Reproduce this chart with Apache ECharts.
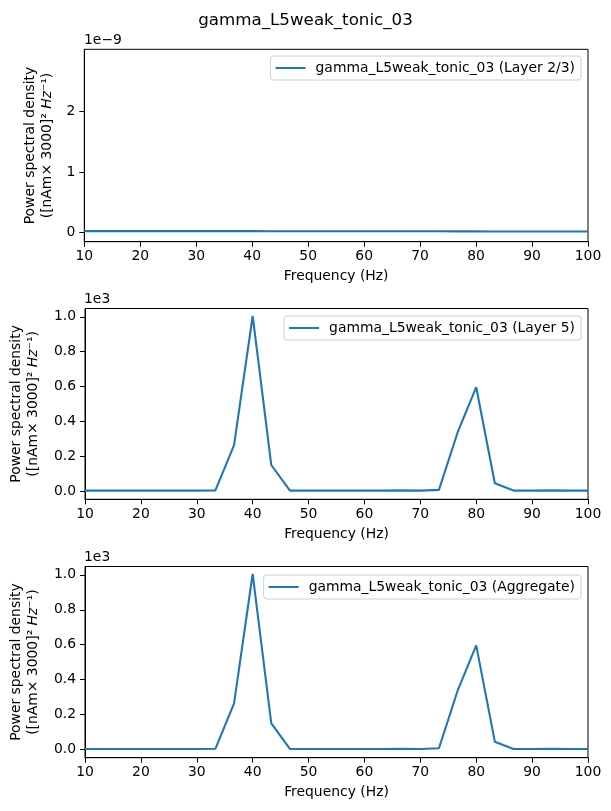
<!DOCTYPE html>
<html>
<head>
<meta charset="utf-8">
<script src="https://cdn.jsdelivr.net/npm/echarts@6/dist/echarts.min.js"></script>
<style>
  html, body { margin: 0; padding: 0; background: #fff; }
  #main { width: 611px; height: 811px; }
</style>
</head>
<body>
<div id="main"></div>
<script>
// frequency bins (Hz)
const freqs = [10, 13.33, 16.67, 20, 23.33, 26.67, 30, 33.33, 36.67, 40, 43.33, 46.67, 50, 53.33,
  56.67, 60, 63.33, 66.67, 70, 73.33, 76.67, 80, 83.33, 86.67, 90, 93.33, 96.67, 100];

// layer 2/3 psd, in units of 1e-9
const layer23 = [0.024, 0.024, 0.024, 0.024, 0.024, 0.024, 0.024, 0.024, 0.024, 0.024, 0.023, 0.023, 0.023, 0.023,
  0.022, 0.022, 0.022, 0.021, 0.021, 0.021, 0.020, 0.020, 0.019, 0.019, 0.018, 0.018, 0.017, 0.017];

// layer 5 psd, in units of 1e3
const layer5 = [0.002, 0.002, 0.002, 0.002, 0.002, 0.002, 0.002, 0.003, 0.263, 1.005, 0.149, 0.002, 0.002, 0.002,
  0.002, 0.002, 0.002, 0.003, 0.002, 0.006, 0.336, 0.596, 0.044, 0.002, 0.002, 0.003, 0.002, 0.002];

// aggregate psd, in units of 1e3
const aggregate = [0.002, 0.002, 0.002, 0.002, 0.002, 0.002, 0.002, 0.003, 0.263, 1.005, 0.149, 0.002, 0.002, 0.002,
  0.002, 0.002, 0.002, 0.003, 0.002, 0.006, 0.336, 0.596, 0.044, 0.002, 0.002, 0.003, 0.002, 0.002];

const xTicks = [10, 20, 30, 40, 50, 60, 70, 80, 90, 100];
const yTicksSmall = [0, 1, 2];
const yTicksBig = [0, 0.2, 0.4, 0.6, 0.8, 1.0];

const title = 'gamma_L5weak_tonic_03';
const names = [title + ' (Layer 2/3)', title + ' (Layer 5)', title + ' (Aggregate)'];

const FONT = 'DejaVu Sans';
const FS = 13.9;
const BLUE = '#1f77b4';

const grids = [
  { left: 84.3, right: 23, top: 49.3, height: 192.4 },
  { left: 84.3, right: 23, top: 308.5, height: 190.8 },
  { left: 84.3, right: 23, top: 566.5, height: 191.2 }
];

function pair(xs, ys) {
  return xs.map((x, i) => [x, ys[i]]);
}

const yName = 'Power spectral density\n{a|([nAm\u00d7 3000]\u00b2 }{i|Hz}{a|\u207b\u00b9)}';

function xAxis(i) {
  return {
    gridIndex: i, type: 'value', min: 10, max: 100,
    axisLine: { show: true, onZero: false, lineStyle: { color: '#000', width: 1 } },
    axisTick: { show: true, length: 5, customValues: xTicks, lineStyle: { color: '#000' } },
    axisLabel: { customValues: xTicks, color: '#000', fontFamily: FONT, fontSize: FS, margin: 8 },
    splitLine: { show: false },
    name: 'Frequency (Hz)', nameLocation: 'middle', nameGap: 28,
    nameTextStyle: { color: '#000', fontFamily: FONT, fontSize: FS }
  };
}

function yAxis(i, min, max, ticks, fmt, gap) {
  return {
    gridIndex: i, type: 'value', min: min, max: max,
    axisLine: { show: true, onZero: false, lineStyle: { color: '#000', width: 1 } },
    axisTick: { show: true, length: 5, customValues: ticks, lineStyle: { color: '#000' } },
    axisLabel: { customValues: ticks, formatter: fmt, color: '#000', fontFamily: FONT, fontSize: FS, margin: 9 },
    splitLine: { show: false },
    name: yName, nameLocation: 'middle', nameRotate: 90, nameGap: gap,
    nameTextStyle: {
      color: '#000', fontFamily: FONT, fontSize: FS, lineHeight: 17,
      rich: {
        a: { color: '#000', fontFamily: FONT, fontSize: FS, lineHeight: 17 },
        i: { color: '#000', fontFamily: FONT, fontSize: FS, fontStyle: 'italic', lineHeight: 17 }
      }
    }
  };
}

function legend(i, top) {
  return {
    seriesIndex: i, data: [names[i]], right: 30, top: top,
    icon: 'rect', itemWidth: 30, itemHeight: 2,
    padding: [5, 6, 5, 5],
    borderColor: '#d0d0d0', borderWidth: 1, borderRadius: 3,
    backgroundColor: 'rgba(255,255,255,0.8)',
    textStyle: { color: '#000', fontFamily: FONT, fontSize: FS, padding: [0, 0, 0, 5] }
  };
}

function line(i, ys) {
  return {
    name: names[i], type: 'line', xAxisIndex: i, yAxisIndex: i,
    data: pair(freqs, ys), showSymbol: false, symbol: 'none', animation: false,
    lineStyle: { color: BLUE, width: 2.1 }, itemStyle: { color: BLUE }
  };
}

function offsetText(top, txt) {
  return {
    type: 'text', left: 84, top: top,
    style: { text: txt, fill: '#000', font: FS + 'px "' + FONT + '"' }
  };
}

const chart = echarts.init(document.getElementById('main'), null, { renderer: 'canvas' });

chart.setOption({
  animation: false,
  backgroundColor: '#fff',
  title: {
    text: title, left: 'center', top: 7,
    textStyle: { color: '#000', fontFamily: FONT, fontSize: 16.7, fontWeight: 'normal' }
  },
  grid: grids.map(g => Object.assign({ show: true, borderColor: '#000', borderWidth: 1, containLabel: false }, g)),
  xAxis: [xAxis(0), xAxis(1), xAxis(2)],
  yAxis: [
    yAxis(0, -0.15, 3.02, yTicksSmall, v => String(Math.round(v)), 27),
    yAxis(1, -0.048, 1.048, yTicksBig, v => v.toFixed(1), 43),
    yAxis(2, -0.048, 1.048, yTicksBig, v => v.toFixed(1), 43)
  ],
  legend: [legend(0, 56), legend(1, 316), legend(2, 575)],
  graphic: [
    offsetText(33, '1e\u22129'),
    offsetText(292, '1e3'),
    offsetText(550, '1e3')
  ],
  series: [line(0, layer23), line(1, layer5), line(2, aggregate)]
});
</script>
</body>
</html>
